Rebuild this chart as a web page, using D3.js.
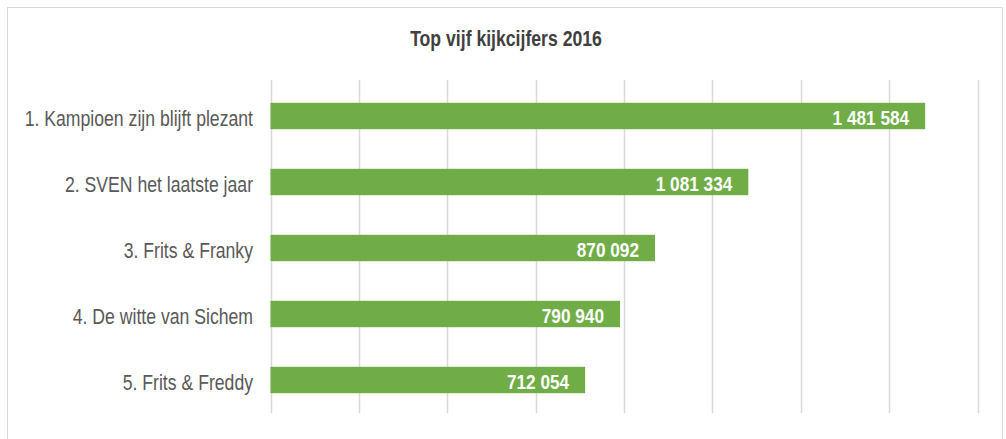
<!DOCTYPE html>
<html>
<head>
<meta charset="utf-8">
<script src="https://cdn.jsdelivr.net/npm/d3@7"></script>
<style>
  body { margin: 0; background: #fff; }
  text { font-family: "Liberation Sans", Arial, sans-serif; }
</style>
</head>
<body>
<script>
const width = 1006;
const height = 439;

const titleText = "Top vijf kijkcijfers 2016";
const programmes = [
    "1. Kampioen zijn blijft plezant",
    "2. SVEN het laatste jaar",
    "3. Frits & Franky",
    "4. De witte van Sichem",
    "5. Frits & Freddy"
];
const viewers = [1481584, 1081334, 870092, 790940, 712054];
const gridTicks = [0, 200000, 400000, 600000, 800000, 1000000, 1200000, 1400000, 1600000];

const plotLeft = 270.5;
const plotRight = 977.5;
const plotTop = 83;
const plotBottom = 413;
// no narrow font installed, so squeeze Liberation Sans like Arial Narrow
const narrow = 0.82;

let svg = d3.select("body")
    .append("svg")
    .attr("width", width)
    .attr("height", height);

// chart area border
svg.append("rect")
    .attr("x", 7.5)
    .attr("y", 7.5)
    .attr("width", 995)
    .attr("height", 440)
    .attr("fill", "#fff")
    .attr("stroke", "#d9d9d9")
    .attr("stroke-width", 1);

svg.append("text")
    .attr("transform", `translate(506,46) scale(${narrow},1)`)
    .attr("text-anchor", "middle")
    .attr("font-size", 21.5)
    .attr("font-weight", "bold")
    .attr("fill", "#404040")
    .text(titleText);

let x = d3.scaleLinear()
    .domain([0, 1600000])
    .range([plotLeft, plotRight]);

let y = d3.scaleBand()
    .domain(programmes)
    .range([plotTop, plotBottom])
    .paddingInner(0.6)
    .paddingOuter(0.3);

// vertical gridlines
svg.append("g")
    .selectAll("line")
    .data(gridTicks)
    .join("line")
    .attr("x1", d => Math.round(x(d)) + 0.5)
    .attr("x2", d => Math.round(x(d)) + 0.5)
    .attr("y1", 80)
    .attr("y2", plotBottom)
    .attr("stroke", "#d9d9d9")
    .attr("stroke-width", 1.5);

// bars
let data = programmes.map((p, i) => ({ name: p, value: viewers[i] }));

svg.append("g")
    .selectAll("rect")
    .data(data)
    .join("rect")
    .attr("x", x(0))
    .attr("y", d => y(d.name))
    .attr("width", d => x(d.value) - x(0))
    .attr("height", y.bandwidth())
    .attr("fill", "#70ad47");

// value labels
const fmt = v => d3.format(",")(v).replace(/,/g, " ");

svg.append("g")
    .selectAll("text")
    .data(data)
    .join("text")
    .attr("transform", d => `translate(${x(d.value) - 16},${y(d.name) + y.bandwidth() / 2 + 8.5}) scale(${narrow},1)`)
    .attr("text-anchor", "end")
    .attr("font-size", 21)
    .attr("font-weight", "bold")
    .attr("fill", "#fff")
    .text(d => fmt(d.value));

// category labels
svg.append("g")
    .selectAll("text")
    .data(data)
    .join("text")
    .attr("transform", d => `translate(253,${y(d.name) + y.bandwidth() / 2 + 10}) scale(${narrow},1)`)
    .attr("text-anchor", "end")
    .attr("font-size", 21.5)
    .attr("fill", "#595959")
    .text(d => d.name);
</script>
</body>
</html>
